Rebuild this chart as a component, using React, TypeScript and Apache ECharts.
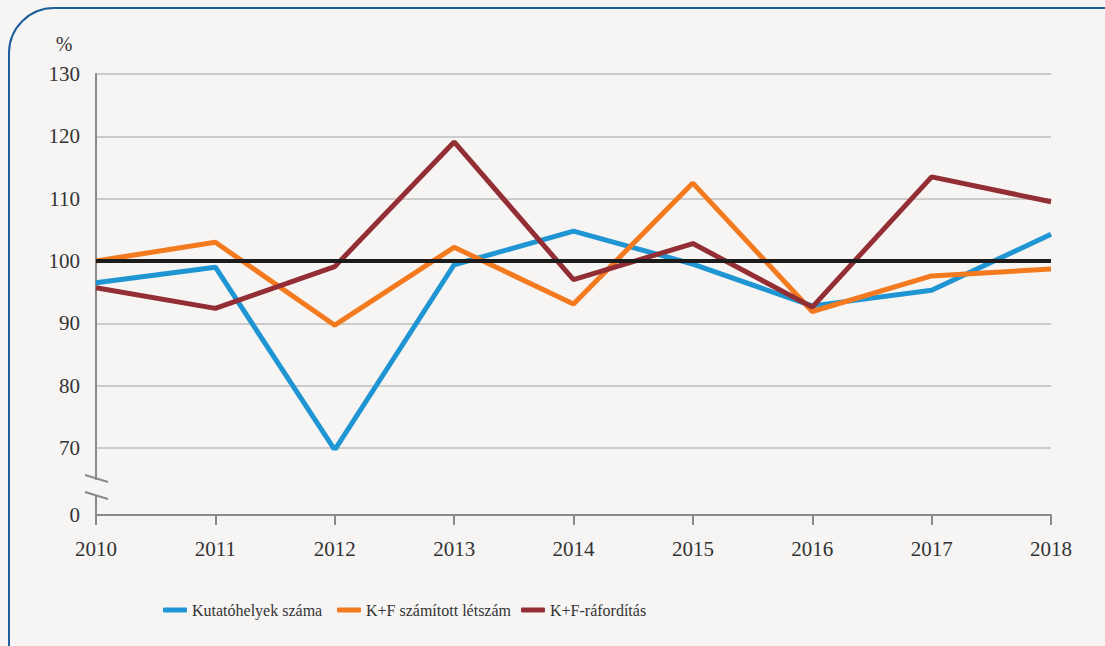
import React, { useEffect, useRef } from "react";
import * as echarts from "echarts";

const years = ["2010", "2011", "2012", "2013", "2014", "2015", "2016", "2017", "2018"];
const kutatohelyek = [96.5, 99.0, 69.7, 99.4, 104.8, 99.5, 92.8, 95.3, 104.3];
const letszam = [100.0, 103.0, 89.7, 102.2, 93.1, 112.5, 91.9, 97.6, 98.7];
const raforditas = [95.7, 92.4, 99.1, 119.1, 97.0, 102.8, 92.6, 113.5, 109.5];
const seriesNames = ["Kutatóhelyek száma", "K+F számított létszám", "K+F-ráfordítás"];
const colors = ["#1f95d3", "#f47a20", "#942e35"];
const referenceLine = 100;

const FONT = "Liberation Serif";

export default function App() {
  const ref = useRef<HTMLDivElement>(null);
  useEffect(() => {
    document.body.style.margin = "0";
    const chart = echarts.init(ref.current!, null, { renderer: "svg" });
    const axisGray = "#8a8a8a";
    const seriesData = [kutatohelyek, letszam, raforditas];
    const legendLeft = [158, 332, 516];
    chart.setOption({
      animation: false,
      backgroundColor: "#f6f5f3",
      textStyle: { fontFamily: FONT },
      grid: { left: 96, right: 54, top: 74, bottom: 198, containLabel: false },
      legend: seriesNames.map((n, i) => ({
        data: [n],
        left: legendLeft[i],
        top: 597,
        icon: "roundRect",
        itemWidth: 24,
        itemHeight: 5,
        itemGap: 4,
        textStyle: { fontFamily: FONT, fontSize: 16, color: "#333" },
      })),
      xAxis: {
        type: "category",
        data: years,
        boundaryGap: false,
        offset: 67,
        axisLine: { lineStyle: { color: axisGray, width: 2 } },
        axisTick: { length: 10, lineStyle: { color: axisGray, width: 2 } },
        axisLabel: { margin: 23, fontSize: 21, color: "#333", fontFamily: FONT },
      },
      yAxis: {
        type: "value",
        min: 70,
        max: 130,
        interval: 10,
        name: "%",
        nameLocation: "end",
        nameGap: 20,
        nameTextStyle: { fontSize: 20, color: "#333", fontFamily: FONT, padding: [0, 64, 0, 0] },
        axisLine: { show: true, lineStyle: { color: axisGray, width: 2 } },
        axisTick: { show: false },
        axisLabel: { margin: 16, fontSize: 21, color: "#333", fontFamily: FONT },
        splitLine: { lineStyle: { color: "#bdbdbd", width: 1.5 } },
      },
      series: [
        {
          type: "line",
          name: "ref",
          data: [],
          z: 1,
          markLine: {
            silent: true,
            symbol: "none",
            label: { show: false },
            lineStyle: { color: "#1c1c1c", width: 4, type: "solid" },
            data: [{ yAxis: referenceLine }],
          },
        },
        ...seriesNames.map((n, i) => ({
          type: "line",
          name: n,
          data: seriesData[i],
          z: 2 + i,
          symbol: "none",
          lineStyle: { color: colors[i], width: 5 },
          itemStyle: { color: colors[i] },
        })),
      ],
      graphic: [
        {
          type: "rect",
          shape: { x: 9, y: 8, width: 1150, height: 700, r: 45 },
          style: { fill: "none", stroke: "#1d5e9e", lineWidth: 2 },
          silent: true,
        },
        { type: "line", shape: { x1: 96, y1: 448, x2: 96, y2: 480 }, style: { stroke: axisGray, lineWidth: 2 } },
        { type: "line", shape: { x1: 96, y1: 496, x2: 96, y2: 515 }, style: { stroke: axisGray, lineWidth: 2 } },
        { type: "line", shape: { x1: 85, y1: 475, x2: 108, y2: 482 }, style: { stroke: axisGray, lineWidth: 2 } },
        { type: "line", shape: { x1: 85, y1: 492, x2: 108, y2: 499 }, style: { stroke: axisGray, lineWidth: 2 } },
        {
          type: "text",
          x: 80,
          y: 515,
          style: { text: "0", fontSize: 21, fontFamily: FONT, fill: "#333", align: "right", verticalAlign: "middle" },
        },
      ],
    });
    return () => chart.dispose();
  }, []);
  return <div ref={ref} style={{ width: 1105, height: 646 }} />;
}
